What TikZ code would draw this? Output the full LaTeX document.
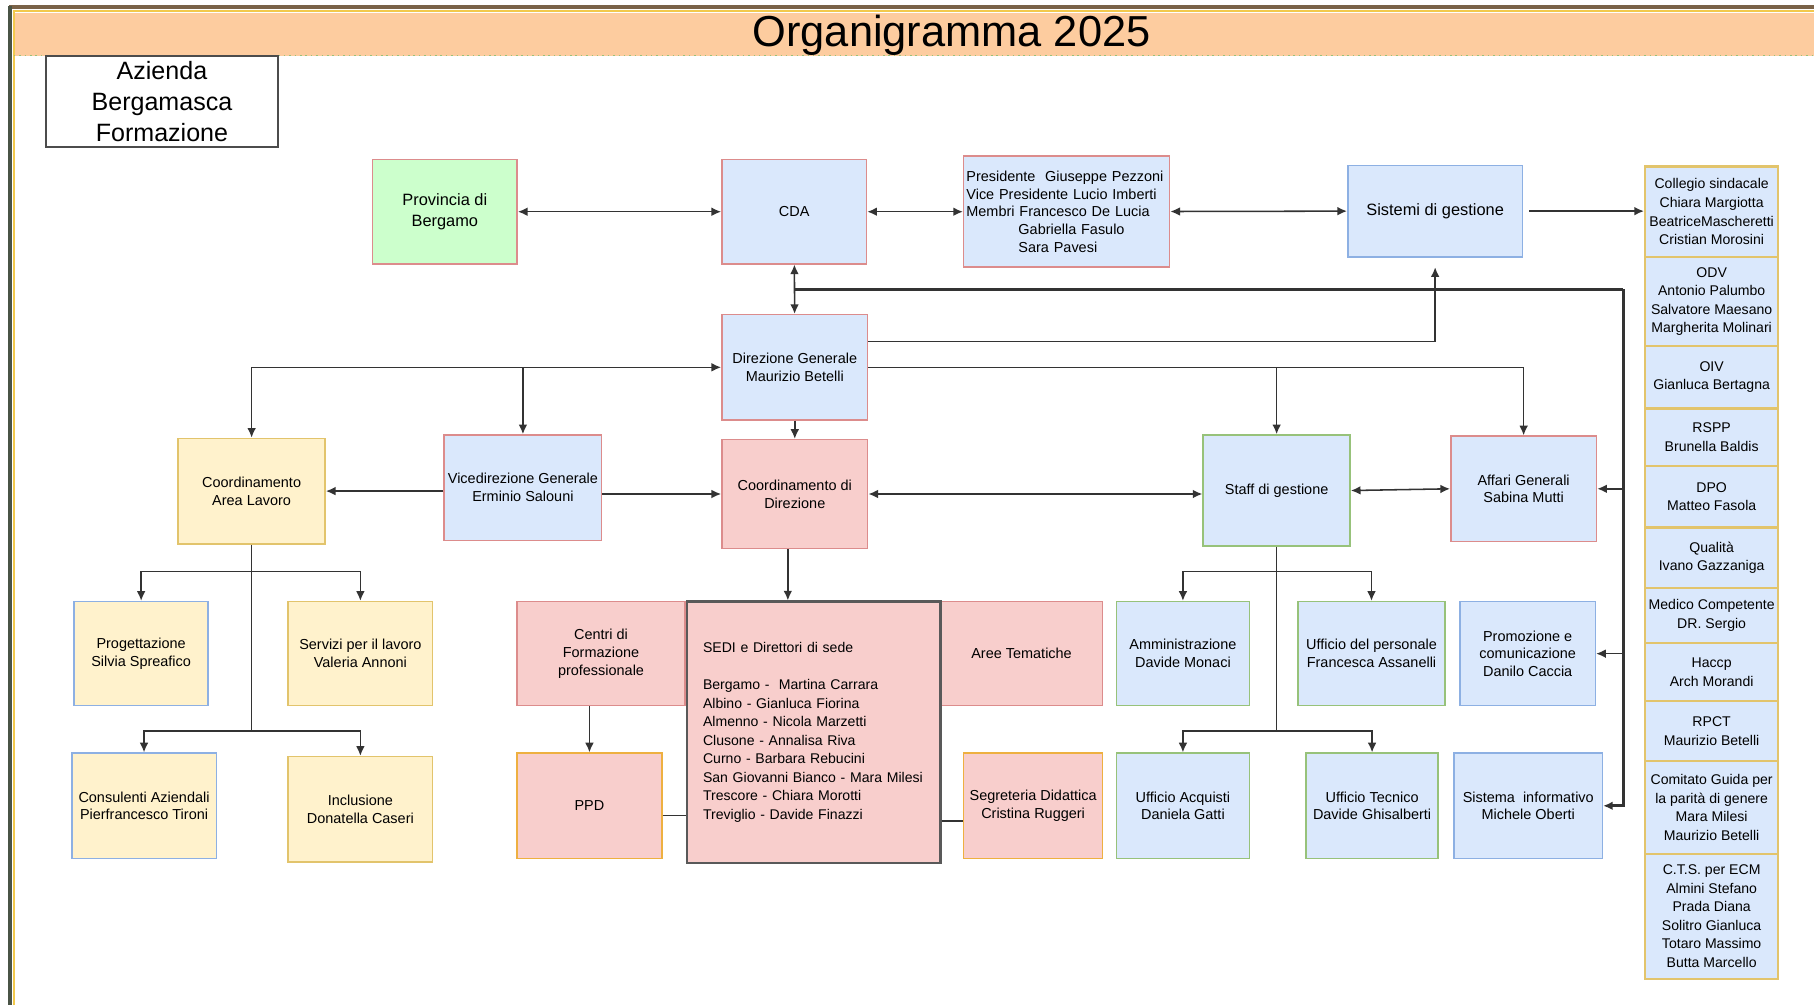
\documentclass[tikz,border=0pt]{standalone}
\usepackage{fontspec}
\setmainfont{Liberation Sans}
\usetikzlibrary{arrows.meta,positioning}

\definecolor{azzurro}{HTML}{DAE8FC}
\definecolor{bordoazz}{HTML}{8DB0E3}
\definecolor{rosa}{HTML}{F8CECC}
\definecolor{bordorosa}{HTML}{DC8C8C}
\definecolor{giallo}{HTML}{FFF2CC}
\definecolor{bordogiallo}{HTML}{E2C46C}
\definecolor{verde}{HTML}{CCFFCC}
\definecolor{bordoverde}{HTML}{97C27A}
\definecolor{bordoarancio}{HTML}{EEB040}
\definecolor{fascia}{HTML}{FDCC9F}
\definecolor{linea}{HTML}{333333}
\definecolor{cornice}{HTML}{7A6248}
\definecolor{cornicesx}{HTML}{4A5446}
\definecolor{cornicegialla}{HTML}{F2C94C}

\tikzset{
  box/.style={draw, line width=0.8pt, minimum width=75pt, minimum height=54.6pt,
    inner sep=1pt, align=center, font=\fontsize{7.5}{9.2}\selectfont},
  bluered/.style={box, fill=azzurro, draw=bordorosa},
  bluegreen/.style={box, fill=azzurro, draw=bordoverde},
  blueblue/.style={box, fill=azzurro, draw=bordoazz},
  pinkred/.style={box, fill=rosa, draw=bordorosa},
  pinkorange/.style={box, fill=rosa, draw=bordoarancio},
  yellowbox/.style={box, fill=giallo, draw=bordogiallo},
  yellowblue/.style={box, fill=giallo, draw=bordoazz},
  cell/.style={draw=bordogiallo, fill=azzurro, line width=1.2pt, minimum width=69pt,
    inner sep=1pt, align=center, font=\fontsize{7.3}{9.6}\selectfont},
  conn/.style={draw=linea, line width=0.8pt},
  arr/.style={conn, -{Latex[length=5pt,width=4.5pt]}},
  biarr/.style={conn, {Latex[length=5pt,width=4.5pt]}-{Latex[length=5pt,width=4.5pt]}},
  bus/.style={draw=linea, line width=1.6pt}
}

\begin{document}
\begin{tikzpicture}[x=0.6pt,y=-0.6pt]
\useasboundingbox (0,0) rectangle (1568,869);
\fill[white] (0,0) rectangle (1568,869);

% cornice e titolo
\fill[fascia] (12,11) rectangle (1568,48);
\draw[cornicegialla, line width=1pt] (12,869) -- (12,9.5) -- (1568,9.5);
\draw[cornice, line width=2pt] (8,6) -- (1568,6);
\draw[cornicesx, line width=2pt] (9,5) -- (9,869);
\draw[bordoverde, line width=0.8pt, dotted] (12,48) -- (1568,48);
\node[anchor=base, font=\fontsize{22.5}{27}\selectfont] (titolo) at (822.5,40) {Organigramma 2025};
\node[draw=black!70, line width=1pt, minimum width=120pt, minimum height=47.4pt, inner sep=1pt,
  align=center, font=\fontsize{13}{16}\selectfont] (abf) at (140,87.5) {Azienda\\Bergamasca\\Formazione};

% prima riga
\node[box, fill=verde, draw=bordorosa, minimum height=54pt, font=\fontsize{8.5}{10.5}\selectfont] (prov) at (384.5,183) {Provincia di\\Bergamo};
\node[bluered, minimum height=54pt] (cda) at (686.5,183) {CDA};
\node[bluered, minimum width=106.8pt, minimum height=57.6pt, text width=104pt, align=left, inner xsep=1.4pt] (pres) at (922,183)
  {Presidente\ \ Giuseppe Pezzoni\\Vice Presidente Lucio Imberti\\Membri Francesco De Lucia\\
   \hspace*{27pt}Gabriella Fasulo\\\hspace*{27pt}Sara Pavesi};
\node[blueblue, minimum width=90.6pt, minimum height=47.4pt, font=\fontsize{8.5}{10.5}\selectfont] (sist) at (1240.5,182.5) {Sistemi di gestione};

% colonna organi
\node[cell, minimum height=46.8pt, anchor=north] (collegio) at (1479.5,143) {Collegio sindacale\\Chiara Margiotta\\BeatriceMascheretti\\Cristian Morosini};
\node[cell, minimum height=46.2pt, below=-1.2pt of collegio] (odv) {ODV\\Antonio Palumbo\\Salvatore Maesano\\Margherita Molinari};
\node[cell, minimum height=32.4pt, below=-1.2pt of odv] (oiv) {OIV\\Gianluca Bertagna};
\node[cell, minimum height=30pt, below=-1.2pt of oiv] (rspp) {RSPP\\Brunella Baldis};
\node[cell, minimum height=31.8pt, below=-1.2pt of rspp] (dpo) {DPO\\Matteo Fasola};
\node[cell, minimum height=31.2pt, below=-1.2pt of dpo] (qual) {Qualità\\Ivano Gazzaniga};
\node[cell, minimum height=28.8pt, below=-1.2pt of qual] (medico) {Medico Competente\\DR. Sergio};
\node[cell, minimum height=30pt, below=-1.2pt of medico] (haccp) {Haccp\\Arch Morandi};
\node[cell, minimum height=31.2pt, below=-1.2pt of haccp] (rpct) {RPCT\\Maurizio Betelli};
\node[cell, minimum height=48pt, below=-1.2pt of rpct] (cug) {Comitato Guida per\\la parità di genere\\Mara Milesi\\Maurizio Betelli};
\node[cell, minimum height=64.8pt, below=-1.2pt of cug] (cts) {C.T.S. per ECM\\Almini Stefano\\Prada Diana\\Solitro Gianluca\\Totaro Massimo\\Butta Marcello};

% direzione
\node[bluered, minimum width=75.6pt] (dg) at (687,317.5) {Direzione Generale\\Maurizio Betelli};
\node[yellowbox, minimum width=76.2pt] (cal) at (217.5,424.5) {Coordinamento\\Area Lavoro};
\node[bluered, minimum width=81.6pt] (vice) at (452,421.5) {Vicedirezione Generale\\Erminio Salouni};
\node[pinkred, minimum width=75.6pt, minimum height=56.4pt] (cdd) at (687,427) {Coordinamento di\\Direzione};
\node[bluegreen, minimum width=76.2pt, minimum height=57.6pt] (staff) at (1103.5,424) {Staff di gestione};
\node[bluered, minimum width=75.6pt] (affari) at (1317,422.5) {Affari Generali\\Sabina Mutti};

% area lavoro
\node[yellowblue, minimum width=69.6pt, minimum height=54pt] (prog) at (122,565) {Progettazione\\Silvia Spreafico};
\node[yellowbox, minimum height=54pt] (serv) at (311.5,565) {Servizi per il lavoro\\Valeria Annoni};
\node[yellowblue] (cons) at (124.5,696.5) {Consulenti Aziendali\\Pierfrancesco Tironi};
\node[yellowbox] (incl) at (311.5,699.5) {Inclusione\\Donatella Caseri};

% sedi
\node[pinkred, minimum width=87pt, minimum height=54pt] (centri) at (519.5,565) {Centri di\\Formazione\\professionale};
\node[pinkorange] (ppd) at (509.5,696.5) {PPD};
\node[pinkred, minimum width=84pt, minimum height=54pt] (aree) at (883,565) {Aree Tematiche};
\node[pinkorange, minimum width=72pt] (seg) at (893,696.5) {Segreteria Didattica\\Cristina Ruggeri};
\node[box, fill=rosa, draw=black!65, line width=1.2pt, minimum height=135.6pt, text width=115pt,
  align=left, inner xsep=8.2pt, font=\fontsize{7.3}{9.6}\selectfont] (sedi) at (703.5,633)
  {SEDI e Direttori di sede\\[9.6pt]
   Bergamo -\ \ Martina Carrara\\Albino - Gianluca Fiorina\\Almenno - Nicola Marzetti\\
   Clusone - Annalisa Riva\\Curno - Barbara Rebucini\\San Giovanni Bianco - Mara Milesi\\
   Trescore - Chiara Morotti\\Treviglio - Davide Finazzi};

% staff
\node[bluegreen, minimum width=69pt, minimum height=54pt] (amm) at (1022.5,565) {Amministrazione\\Davide Monaci};
\node[bluegreen, minimum width=76.2pt, minimum height=54pt] (pers) at (1185.5,565) {Ufficio del personale\\Francesca Assanelli};
\node[blueblue, minimum width=70.2pt, minimum height=54pt] (promo) at (1320.5,565) {Promozione e\\comunicazione\\Danilo Caccia};
\node[bluegreen, minimum width=69pt] (acq) at (1022.5,696.5) {Ufficio Acquisti\\Daniela Gatti};
\node[bluegreen, minimum width=68.4pt] (tec) at (1186,696.5) {Ufficio Tecnico\\Davide Ghisalberti};
\node[blueblue, minimum width=76.8pt] (info) at (1321,696.5) {Sistema\ \ informativo\\Michele Oberti};

% collegamenti prima riga
\draw[biarr] (prov) -- (cda);
\draw[biarr] (cda) -- (pres);
\draw[biarr] (pres) -- (sist.west);
\draw[arr] ([xshift=3pt]sist.east) -- (sist.east -| collegio.west);
\draw[biarr] (cda) -- (dg);

% linea spessa verso destra
\coordinate (busA) at (687,250);
\coordinate (busB) at (1403,250);
\draw[bus] (busA) -- (busB);
\draw[conn, line width=1.6pt, -{Latex[length=5pt,width=4.5pt]}] (busB) |- (info.east);
\draw[arr] (busB |- affari.east) -- (affari.east);
\draw[arr] (busB |- promo.east) -- (promo.east);

% direzione generale
\coordinate (dgsist) at ([yshift=13.5pt]dg.east);
\draw[arr] (dgsist) -| ([yshift=-5pt]sist.south);
\draw[arr] (dg.east) -| (staff.north);
\draw[arr] (dg.east) -| (affari.north);
\draw[arr] (cal.north |- dg.west) -- (dg.west);
\draw[arr] (dg.west -| cal.north) -- (cal.north);
\draw[arr] (dg.west -| vice.north) -- (vice.north);
\draw[arr] (dg) -- (cdd);

% seconda riga
\draw[arr] (vice.west |- cal.east) -- (cal.east);
\draw[arr] (vice.east |- cdd.west) -- (cdd.west);
\draw[biarr] (cdd.east) -- (cdd.east -| staff.west);
\draw[biarr] (staff.east) -- (affari.west);

% albero area lavoro
\coordinate (calA) at (217.5,494);
\coordinate (calB) at (217.5,632);
\draw[conn] (cal.south) -- (calB);
\draw[arr] (calA) -| (prog.north);
\draw[arr] (calA) -| (serv.north);
\draw[arr] (calB) -| (cons.north);
\draw[arr] (calB) -| (incl.north);

% sedi
\coordinate (cddout) at ([xshift=-3.6pt]cdd.south);
\draw[arr] (cddout) -- (cddout |- sedi.north);
\draw[arr] (ppd.north |- centri.south) -- (ppd.north);
\coordinate (ppdout) at ([yshift=-5pt]ppd.east);
\draw[conn] (ppdout) -- (ppdout -| sedi.west);
\coordinate (segin) at ([yshift=-8pt]seg.west);
\draw[conn] (segin -| sedi.east) -- (segin);

% albero staff
\coordinate (stA) at (1103.5,494);
\coordinate (stB) at (1103.5,632);
\draw[conn] (staff.south) -- (stB);
\draw[arr] (stA) -| (amm.north);
\draw[arr] (stA) -| (pers.north);
\draw[arr] (stB) -| (acq.north);
\draw[arr] (stB) -| (tec.north);
\end{tikzpicture}
\end{document}
